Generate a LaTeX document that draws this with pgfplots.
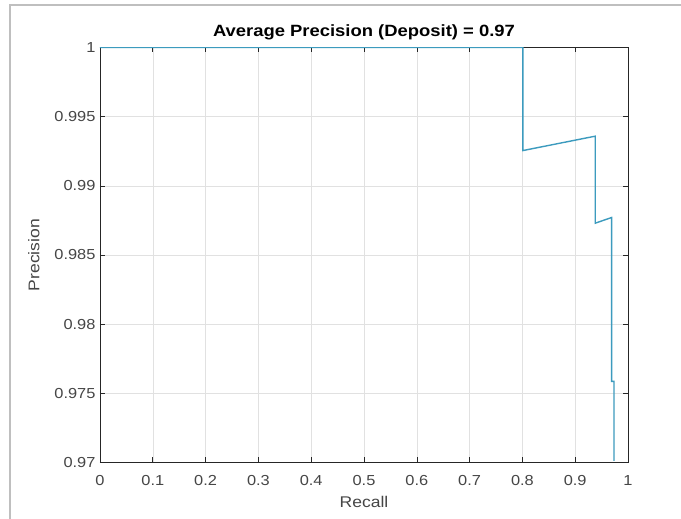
\documentclass[border=0pt]{standalone}
\usepackage{fontspec}
\setmainfont{Liberation Sans}[FakeStretch=1.13]
\usepackage{pgfplots}
\pgfplotsset{compat=1.18}
\definecolor{prline}{RGB}{60,155,190}
\definecolor{gridc}{RGB}{225,225,225}
\definecolor{axc}{RGB}{38,38,38}
\definecolor{txtc}{RGB}{70,70,70}
\begin{document}
\begin{tikzpicture}[x=1pt,y=1pt]
\useasboundingbox (-100,-56.5) rectangle (581,462.5);
\fill[white] (-100,-56.5) rectangle (581,462.5);
\draw[black!25, line width=1.5pt] (-90,-56.5) -- (-90,457.5) -- (581,457.5);
\begin{axis}[
  at={(0,0)}, anchor=south west, scale only axis,
  width=528pt, height=415pt,
  xmin=0, xmax=1, ymin=0.97, ymax=1,
  axis line style={axc, line width=0.7pt},
  grid=major, major grid style={gridc, line width=0.5pt},
  tick align=inside, tick pos=both, major tick length=5pt,
  tick style={axc, line width=0.6pt},
  xtick={0,0.1,0.2,0.3,0.4,0.5,0.6,0.7,0.8,0.9,1},
  xticklabels={0,0.1,0.2,0.3,0.4,0.5,0.6,0.7,0.8,0.9,1},
  ytick={0.97,0.975,0.98,0.985,0.99,0.995,1},
  yticklabels={0.97,0.975,0.98,0.985,0.99,0.995,1},
  ticklabel style={font=\fontsize{14.5}{17}\selectfont, text=txtc},
  xticklabel style={yshift=-9pt},
  yticklabel style={xshift=-1pt},
  title={Average Precision (Deposit) = 0.97},
  title style={font=\fontsize{16.3}{19}\selectfont\bfseries, text=black, yshift=-2pt},
  xlabel={Recall}, ylabel={Precision},
  label style={font=\fontsize{15.5}{18}\selectfont, text=txtc},
  xlabel style={yshift=-4pt},
  ylabel style={yshift=8pt},
]
\addplot[prline, line width=1.4pt, line join=miter] coordinates {
  (0,1) (0.801,1) (0.801,0.99255) (0.938,0.99359) (0.938,0.9873)
  (0.969,0.98771) (0.969,0.97586) (0.9735,0.97586) (0.9735,0.97012)
};
\end{axis}
\end{tikzpicture}
\end{document}
